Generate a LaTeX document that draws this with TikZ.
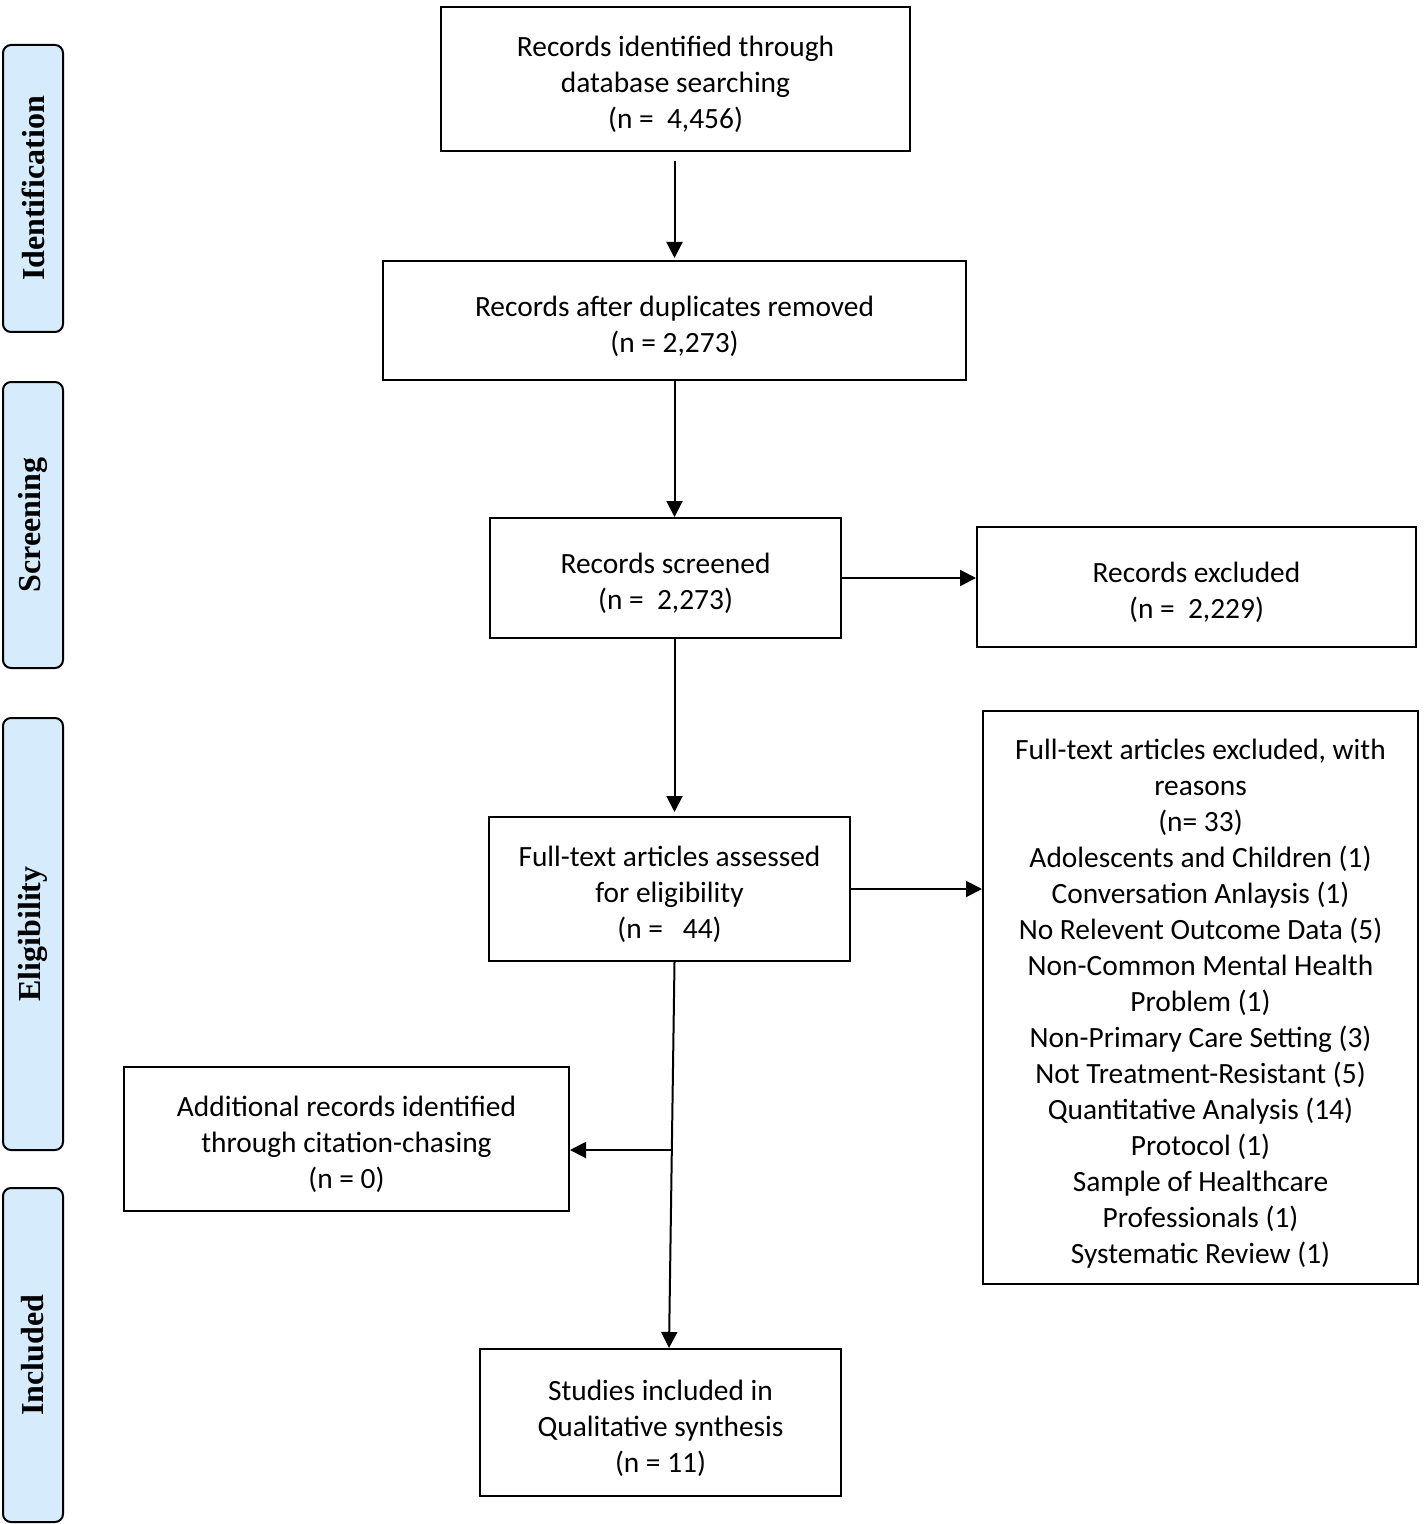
\documentclass[tikz,border=0pt]{standalone}
\usepackage{fontspec}
\setmainfont{Carlito}
\newfontfamily\sidefont{Liberation Serif}
\usetikzlibrary{arrows.meta}
\usetikzlibrary{calc}
\definecolor{sideblue}{RGB}{214,236,252}
\newcommand{\topstrut}{\rule{0pt}{16pt}}

\begin{document}
\begin{tikzpicture}[x = 0.5pt, y = -0.5pt,
  box/.style = {draw, line width = 1pt, align = center, inner sep = 0pt,
    font = \fontsize{14.7}{18}\selectfont},
  phase/.style = {draw, line width = 1pt, fill = sideblue, rounded corners = 4pt,
    rotate = 90, inner sep = 0pt, minimum height = 30pt,
    font = \sidefont\bfseries\fontsize{16}{19}\selectfont},
  arr/.style = {line width = 1pt, -{Triangle[length = 8pt, width = 8pt]}}]
  \useasboundingbox (0, 0) rectangle (1424, 1524);

  \node[phase, minimum width = 143.5pt] (ident) at (33, 188.5) {Identification};
  \node[phase, minimum width = 143pt] (scrn) at (33, 525) {Screening};
  \node[phase, minimum width = 216pt] (elig) at (33, 934) {Eligibility};
  \node[phase, minimum width = 167pt] (incl) at (33, 1355) {Included};

  \node[box, minimum width = 234.5pt, minimum height = 72pt] (rec) at (675.5, 79)
  {\topstrut Records identified through\\database searching\\(n =\ \ 4,456)};
  \node[box, minimum width = 291.5pt, minimum height = 59.5pt] (dup) at (674.5, 320.5)
  {\topstrut Records after duplicates removed\\(n = 2,273)};
  \node[box, minimum width = 175.5pt, minimum height = 60pt] (scr) at (665.5, 578)
  {\topstrut Records screened\\(n =\ \ 2,273)};
  \node[box, minimum width = 219.5pt, minimum height = 60pt] (exc) at (1196.5, 587)
  {\topstrut Records excluded\\(n =\ \ 2,229)};
  \node[box, minimum width = 180.5pt, minimum height = 72pt] (full) at (669.5, 889)
  {\topstrut Full-text articles assessed\\for eligibility\\(n =\ \ \ 44)};
  \node[box, minimum width = 217.5pt, minimum height = 286.5pt] (rsn) at (1200.5, 997.5)
  {\topstrut Full-text articles excluded, with\\reasons\\(n= 33)\\Adolescents and Children (1)\\
    Conversation Anlaysis (1)\\No Relevent Outcome Data (5)\\Non-Common Mental Health\\
    Problem (1)\\Non-Primary Care Setting (3)\\Not Treatment-Resistant (5)\\
    Quantitative Analysis (14)\\Protocol (1)\\Sample of Healthcare\\Professionals (1)\\
    Systematic Review (1)};
  \node[box, minimum width = 222.5pt, minimum height = 72pt] (add) at (346.5, 1139)
  {\topstrut Additional records identified\\through citation-chasing\\(n = 0)};
  \node[box, minimum width = 180.5pt, minimum height = 73.5pt] (stud) at (660.5, 1422.5)
  {\topstrut Studies included in\\Qualitative synthesis\\(n = 11)};

  \draw[arr, shorten <= 4.5pt, shorten >= 1pt] (rec.south -| dup.south) -- (dup.north);
  \draw[arr] (dup.south) -- (dup.south |- scr.north);
  \draw[arr] (scr.east) -- (scr.east -| exc.west);
  \draw[arr, shorten >= 2pt] (dup.south |- scr.south) -- (dup.south |- full.north);
  \draw[arr] (full.east) -- (full.east -| rsn.west);
  \draw[arr] (dup.south |- full.south) -- ([xshift = 4.25pt]stud.north);
  \coordinate (br) at (673, 1150);
  \draw[arr] (br) -- (br -| add.east);
\end{tikzpicture}
\end{document}
